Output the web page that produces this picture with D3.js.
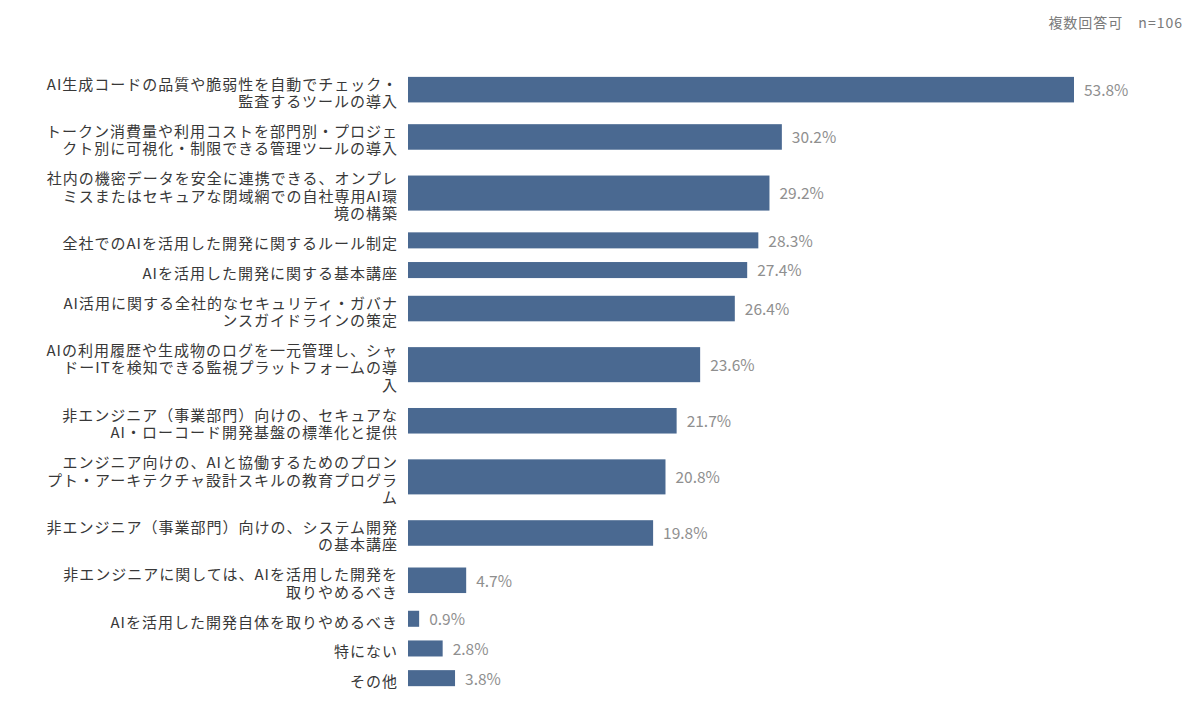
<!DOCTYPE html>
<html>
<head>
<meta charset="utf-8">
<script src="https://cdn.jsdelivr.net/npm/d3@7"></script>
<style>
  body { margin: 0; background: #fff; }
  svg { font-family: "Noto Sans CJK JP", "Noto Sans", sans-serif; }
  .label { fill: #383838; font-size: 15px; letter-spacing: 1px; }
  .value-label { fill: #8f8f8f; font-size: 15.5px; }
  .note { fill: #7a7a7a; font-size: 14px; letter-spacing: 1px; }
  .bar { fill: #4a6991; }
</style>
</head>
<body>
<div id="chart"></div>
<script>
// line breaks follow the original chart's wrapping
const categories = [
  'AI生成コードの品質や脆弱性を自動でチェック・\n監査するツールの導入',
  'トークン消費量や利用コストを部門別・プロジェ\nクト別に可視化・制限できる管理ツールの導入',
  '社内の機密データを安全に連携できる、オンプレ\nミスまたはセキュアな閉域網での自社専用AI環\n境の構築',
  '全社でのAIを活用した開発に関するルール制定',
  'AIを活用した開発に関する基本講座',
  'AI活用に関する全社的なセキュリティ・ガバナ\nンスガイドラインの策定',
  'AIの利用履歴や生成物のログを一元管理し、シャ\nドーITを検知できる監視プラットフォームの導\n入',
  '非エンジニア（事業部門）向けの、セキュアな\nAI・ローコード開発基盤の標準化と提供',
  'エンジニア向けの、AIと協働するためのプロン\nプト・アーキテクチャ設計スキルの教育プログラ\nム',
  '非エンジニア（事業部門）向けの、システム開発\nの基本講座',
  '非エンジニアに関しては、AIを活用した開発を\n取りやめるべき',
  'AIを活用した開発自体を取りやめるべき',
  '特にない',
  'その他'
];
const values = [53.8, 30.2, 29.2, 28.3, 27.4, 26.4, 23.6, 21.7, 20.8, 19.8, 4.7, 0.9, 2.8, 3.8];
const noteText = '複数回答可　n=106';

class barChart {
  constructor(_config, _data) {
    this.config = {
      parentElement: _config.parentElement,
      containerWidth: _config.containerWidth || 1200,
      containerHeight: _config.containerHeight || 711,
      margin: _config.margin || {top: 66, right: 49, bottom: 18, left: 408},
      lineUnit: 17.5,
      rowPad: 12,
      barRatio: 0.54,
      labelGap: 10,
      labelLine: 17.5,
      labelShift: 3.5,
      valueGap: 10
    }
    this.data = _data;
    this.initVis();
  }

  initVis() {
    let vis = this;

    vis.width = vis.config.containerWidth - vis.config.margin.left - vis.config.margin.right;
    vis.height = vis.config.containerHeight - vis.config.margin.top - vis.config.margin.bottom;

    vis.svg = d3.select(vis.config.parentElement).append('svg')
      .attr('width', vis.config.containerWidth)
      .attr('height', vis.config.containerHeight);

    vis.chart = vis.svg.append('g')
      .attr('transform', `translate(${vis.config.margin.left},${vis.config.margin.top})`);

    // 53.8% reaches x=1074 in the original
    vis.xScale = d3.scaleLinear()
      .domain([0, 53.8])
      .range([0, 666]);

    // rows are taller when the label wraps onto more lines
    vis.yScale = d3.scaleLinear()
      .range([0, vis.height]);

    vis.svg.append('text')
      .attr('class', 'note')
      .attr('x', 1183)
      .attr('y', 23)
      .attr('dy', '0.35em')
      .attr('text-anchor', 'end')
      .text(noteText);

    vis.updateVis();
  }

  updateVis() {
    let vis = this;

    let offset = 0;
    vis.rows = vis.data.map(d => {
      const lines = d.category.split('\n');
      const size = lines.length * vis.config.lineUnit + vis.config.rowPad;
      const row = { ...d, lines: lines, start: offset, size: size };
      offset += size;
      return row;
    });
    vis.yScale.domain([0, offset]);

    vis.renderVis();
  }

  renderVis() {
    let vis = this;
    const y = vis.yScale;

    const rowCenter = d => y(d.start + d.size / 2);
    const barHeight = d => y(d.size) - y(0);

    vis.chart.selectAll('.bar')
      .data(vis.rows)
      .join('rect')
      .attr('class', 'bar')
      .attr('x', 0)
      .attr('y', d => rowCenter(d) - barHeight(d) * vis.config.barRatio / 2)
      .attr('width', d => vis.xScale(d.value))
      .attr('height', d => barHeight(d) * vis.config.barRatio);

    vis.chart.selectAll('.value-label')
      .data(vis.rows)
      .join('text')
      .attr('class', 'value-label')
      .attr('x', d => vis.xScale(d.value) + vis.config.valueGap)
      .attr('y', d => rowCenter(d) + 1)
      .attr('dy', '0.35em')
      .text(d => d.value.toFixed(1) + '%');

    const labels = vis.chart.selectAll('.label')
      .data(vis.rows)
      .join('text')
      .attr('class', 'label')
      .attr('text-anchor', 'end')
      .attr('transform', d => `translate(${-vis.config.labelGap},${rowCenter(d) + vis.config.labelShift})`);

    labels.selectAll('tspan')
      .data(d => d.lines.map((t, i) => ({ text: t, i: i, n: d.lines.length })))
      .join('tspan')
      .attr('x', 0)
      .attr('y', d => (d.i - (d.n - 1) / 2) * vis.config.labelLine)
      .attr('dy', '0.35em')
      .text(d => d.text);
  }
}

const data = categories.map((c, i) => ({ category: c, value: values[i] }));
new barChart({ parentElement: '#chart' }, data);
</script>
</body>
</html>
